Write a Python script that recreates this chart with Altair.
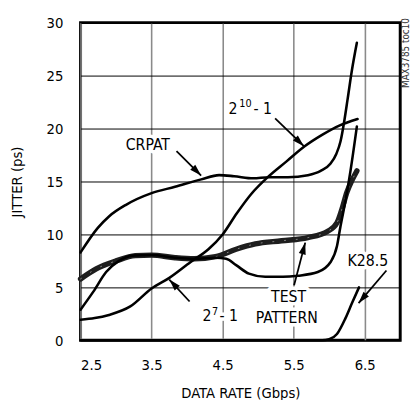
import altair as alt
import pandas as pd
import numpy as np

FONT = "'DejaVu Sans Condensed', 'Liberation Sans Narrow', Roboto, sans-serif"

# ---- data ----
crpat_x = [2.5, 2.74, 2.9, 3.14, 3.5, 3.83, 4.2, 4.45, 4.66, 4.93, 5.15, 5.42, 5.7, 5.88, 6.02, 6.1, 6.16, 6.21, 6.26, 6.32, 6.39]
crpat_y = [8.3, 10.6, 11.7, 12.8, 13.9, 14.5, 15.2, 15.6, 15.5, 15.3, 15.4, 15.4, 15.6, 16.0, 16.7, 17.6, 18.8, 20.6, 22.8, 25.5, 28.1]

p10_x = [2.5, 2.7, 2.9, 3.2, 3.5, 3.75, 4.05, 4.3, 4.5, 4.7, 4.9, 5.15, 5.4, 5.65, 5.9, 6.15, 6.4]
p10_y = [1.95, 2.1, 2.4, 3.2, 4.9, 5.9, 7.4, 8.6, 10.0, 12.0, 13.8, 15.5, 16.9, 18.3, 19.4, 20.3, 20.9]

p7_x = [2.5, 2.68, 2.86, 3.04, 3.23, 3.5, 3.83, 4.1, 4.4, 4.55, 4.69, 4.87, 5.1, 5.35, 5.56, 5.84, 6.02, 6.11, 6.16, 6.23, 6.3, 6.39]
p7_y = [2.9, 4.6, 6.45, 7.5, 8.0, 8.05, 7.8, 7.7, 7.8, 7.7, 7.1, 6.3, 6.0, 6.0, 6.1, 6.45, 7.4, 8.9, 10.8, 13.2, 16.0, 20.2]

test_x = [2.5, 2.72, 3.0, 3.27, 3.5, 3.83, 4.1, 4.4, 4.69, 4.96, 5.33, 5.7, 5.98, 6.11, 6.18, 6.25, 6.32, 6.39]
test_y = [5.8, 6.75, 7.5, 8.0, 8.05, 7.8, 7.7, 7.9, 8.6, 9.1, 9.4, 9.7, 10.3, 11.1, 12.4, 14.0, 15.1, 16.0]

k28_x = [2.5, 5.2, 5.9, 6.0, 6.11, 6.23, 6.32, 6.42]
k28_y = [0.0, 0.0, 0.0, 0.1, 0.6, 2.1, 3.5, 5.0]

x_ticks = [2.5, 3.5, 4.5, 5.5, 6.5]
y_ticks = [0, 5, 10, 15, 20, 25, 30]

# annotation labels
lab_text = ["CRPAT", "TEST", "PATTERN", "K28.5"]
lab_x = [3.447, 5.429, 5.402, 6.545]
lab_y = [17.96, 3.61, 1.67, 7.01]

sup_text = ["2", "10", "- 1", "2", "7", "- 1"]
sup_x = [4.584, 4.735, 4.935, 4.215, 4.35, 4.455]
sup_y = [21.39, 22.04, 21.39, 1.82, 2.44, 1.82]
sup_size = [16, 11, 16, 16, 11, 16]

# arrows (start -> tip)
arr_xs = [3.851, 5.239, 4.035, 5.506, 6.806]
arr_ys = [17.87, 20.95, 3.67, 5.21, 6.6]
arr_xt = [4.197, 5.644, 3.749, 5.663, 6.414]
arr_yt = [15.56, 18.33, 5.74, 9.23, 3.52]

fig_id = ["MAX3785 toc10"]

# ---- chart ----
W, H = 326, 324
xdom = [2.5, 7.0]
ydom = [0, 30]
px_x = W / (xdom[1] - xdom[0])
px_y = H / (ydom[1] - ydom[0])

xs = alt.Scale(domain=xdom, nice=False, zero=False)
ys = alt.Scale(domain=ydom, nice=False)
xaxis = alt.Axis(values=x_ticks, format=".1f", title="DATA RATE (Gbps)", grid=True,
                 gridColor="#8a8a8a", gridWidth=1.6, ticks=False, domain=False,
                 labelPadding=18, titlePadding=13)
yaxis = alt.Axis(values=y_ticks, title="JITTER (ps)", grid=True, gridColor="black",
                 gridWidth=1, ticks=False, domain=False, labelPadding=18, titlePadding=22)

def X(field="x"):
    return alt.X(f"{field}:Q", scale=xs, axis=xaxis)

def Y(field="y"):
    return alt.Y(f"{field}:Q", scale=ys, axis=yaxis)

def line(xv, yv, width, color="black", dash=None, opacity=1.0):
    df = pd.DataFrame({"x": xv, "y": yv})
    kw = dict(color=color, strokeWidth=width, interpolate="monotone", strokeCap="round",
              strokeJoin="round", opacity=opacity)
    if dash:
        kw["strokeDash"] = dash
    return alt.Chart(df).mark_line(**kw).encode(x=X(), y=Y(), order=alt.Order("x:Q"))

layers = [
    line(test_x, test_y, 5.5, "#1e1e1e"),
    line(test_x, test_y, 1.0, "#bbbbbb", [1, 11], 0.7),
    line(crpat_x, crpat_y, 2.6),
    line(p10_x, p10_y, 2.6),
    line(p7_x, p7_y, 2.6),
    line(k28_x, k28_y, 2.6),
]

# arrows
adf = pd.DataFrame({"xs": arr_xs, "ys": arr_ys, "xt": arr_xt, "yt": arr_yt})
dxp = (adf["xt"] - adf["xs"]) * px_x
dyp = -(adf["yt"] - adf["ys"]) * px_y
adf["ang"] = (np.degrees(np.arctan2(dxp, -dyp)) + 360) % 360
shafts = alt.Chart(adf).mark_rule(color="black", strokeWidth=1.8).encode(
    x=X("xs"), y=Y("ys"), x2="xt:Q", y2="yt:Q")
heads = alt.Chart(adf).mark_point(
    shape="M0,0L0.6,2L-0.6,2Z", filled=True, color="black", opacity=1, size=144, strokeWidth=0
).encode(x=X("xt"), y=Y("yt"), angle=alt.Angle("ang:Q", scale=None))

# labels with white halo
ldf = pd.DataFrame({"t": lab_text, "x": lab_x, "y": lab_y})
sdf = pd.DataFrame({"t": sup_text, "x": sup_x, "y": sup_y, "s": sup_size})

def texts(df, align, halo):
    kw = dict(font=FONT, align=align, baseline="alphabetic")
    if halo:
        kw.update(color="white", stroke="white", strokeWidth=7, strokeJoin="round")
    else:
        kw.update(color="black")
    enc = dict(x=X(), y=Y(), text="t:N")
    if "s" in df.columns:
        enc["size"] = alt.Size("s:Q", scale=None, legend=None)
        return alt.Chart(df).mark_text(**kw).encode(**enc)
    return alt.Chart(df).mark_text(fontSize=16, **kw).encode(**enc)

label_layers = [
    texts(ldf, "center", True), texts(sdf, "left", True),
    shafts, heads,
    texts(ldf, "center", False), texts(sdf, "left", False),
]

fid = alt.Chart(pd.DataFrame({"t": fig_id})).mark_text(
    font=FONT, fontSize=10, angle=270, align="center", baseline="middle", color="#333"
).encode(x=alt.value(332), y=alt.value(31), text="t:N")

chart = alt.layer(*layers, *label_layers, fid).properties(
    width=W, height=H,
    padding={"left": 74, "top": 11, "right": 11, "bottom": 62},
    autosize=alt.AutoSizeParams(type="none"),
).configure_view(stroke="black", strokeWidth=3).configure_axis(
    labelFont=FONT, titleFont=FONT, labelFontSize=15, titleFontSize=15,
    labelColor="black", titleColor="black", titleFontWeight="normal"
)

chart.save("out.html", embed_options={"renderer": "svg", "actions": False})
